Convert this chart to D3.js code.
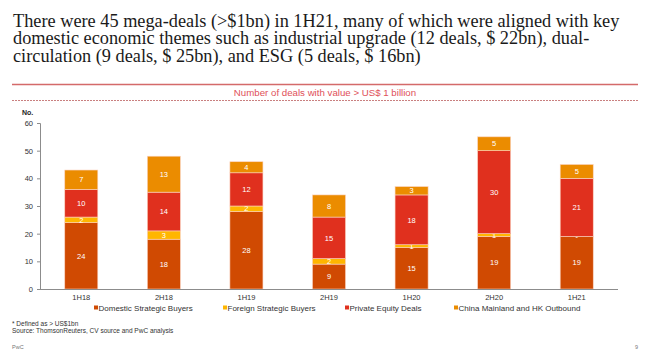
<!DOCTYPE html>
<html>
<head>
    <meta charset="utf-8">
    <title>Mega-deals</title>
    <style>
        body {
            margin: 0;
            padding: 0;
            background: #fff;
        }

        .title {
            font-family: "Liberation Serif", "DejaVu Serif", serif;
            font-size: 18.3px;
            fill: #1a1a1a;
        }

        .small {
            font-family: "Liberation Sans", Arial, sans-serif;
            font-size: 8px;
            fill: #333;
        }

        .axis text {
            font-family: "Liberation Sans", Arial, sans-serif;
            font-size: 7.5px;
            fill: #333;
        }

        .axis path,
        .axis line {
            stroke: #8c8c8c;
        }
    </style>
</head>
<body>
    <div id="chart"></div>

    <script src="https://d3js.org/d3.v7.min.js"></script>
    <script>
        var periods = ["1H18", "2H18", "1H19", "2H19", "1H20", "2H20", "1H21"];
        var domestic = [24, 18, 28, 9, 15, 19, 19];
        var foreign = [2, 3, 2, 2, 1, 1, 0];
        var privateEquity = [10, 14, 12, 15, 18, 30, 21];
        var outbound = [7, 13, 4, 8, 3, 5, 5];
        var yTicks = [0, 10, 20, 30, 40, 50, 60];

        var seriesNames = ["Domestic Strategic Buyers", "Foreign Strategic Buyers", "Private Equity Deals", "China Mainland and HK Outbound"];
        var seriesColors = ["#d04a02", "#ffb600", "#e0301e", "#eb8c00"];

        var width = 650,
            height = 360;

        var svg = d3.select("#chart")
            .append("svg")
            .attr("width", width)
            .attr("height", height);

        // title
        var titleLines = [
            "There were 45 mega-deals (>$1bn) in 1H21, many of which were aligned with key",
            "domestic economic themes such as industrial upgrade (12 deals, $ 22bn), dual-",
            "circulation (9 deals, $ 25bn), and ESG (5 deals, $ 16bn)"
        ];
        svg.append("g")
            .selectAll("text")
            .data(titleLines)
            .enter()
            .append("text")
            .attr("class", "title")
            .attr("x", 13)
            .attr("y", function (d, i) { return 27 + i * 17.3; })
            .text(function (d) { return d; });

        // header band
        svg.append("line")
            .attr("x1", 12).attr("x2", 638)
            .attr("y1", 84.5).attr("y2", 84.5)
            .attr("stroke", "#d46a6a")
            .attr("stroke-width", 1.5);

        svg.append("text")
            .attr("x", 325)
            .attr("y", 96)
            .attr("text-anchor", "middle")
            .style("font-family", "'Liberation Sans', Arial, sans-serif")
            .style("font-size", "9.7px")
            .style("fill", "#e0505a")
            .text("Number of deals with value > US$ 1 billion");

        svg.append("line")
            .attr("x1", 12).attr("x2", 638)
            .attr("y1", 100.5).attr("y2", 100.5)
            .attr("stroke", "#c98080")
            .attr("stroke-width", 1)
            .attr("stroke-dasharray", "2,1");

        // chart
        var x = d3.scaleBand()
            .domain(periods)
            .range([40, 618])
            .paddingInner(0.6)
            .paddingOuter(0.3);

        var y = d3.scaleLinear()
            .domain([0, 60])
            .range([289, 123]);

        var table = periods.map(function (p, i) {
            return {
                period: p,
                s0: domestic[i],
                s1: foreign[i],
                s2: privateEquity[i],
                s3: outbound[i]
            };
        });

        var stack = d3.stack().keys(["s0", "s1", "s2", "s3"]);
        var layers = stack(table);

        var layer = svg.append("g")
            .selectAll("g")
            .data(layers)
            .enter()
            .append("g")
            .attr("fill", function (d, i) { return seriesColors[i]; });

        layer.selectAll("rect")
            .data(function (d) { return d; })
            .enter()
            .append("rect")
            .attr("x", function (d) { return x(d.data.period); })
            .attr("width", x.bandwidth())
            .attr("y", function (d) { return y(d[1]); })
            .attr("height", function (d) { return y(d[0]) - y(d[1]); })
            .attr("stroke", "#fbd3c0")
            .attr("stroke-width", 0.6);

        layer.selectAll("text")
            .data(function (d) { return d; })
            .enter()
            .append("text")
            .attr("x", function (d) { return x(d.data.period) + x.bandwidth() / 2; })
            .attr("y", function (d) { return (y(d[0]) + y(d[1])) / 2 + 2.7; })
            .attr("text-anchor", "middle")
            .style("font-family", "'Liberation Sans', Arial, sans-serif")
            .style("font-size", "7.5px")
            .style("fill", "#fff")
            .text(function (d) { var v = d[1] - d[0]; return v === 0 ? "-" : v; });

        // axes
        svg.append("g")
            .attr("class", "axis")
            .attr("transform", "translate(40,0)")
            .call(d3.axisLeft(y).tickValues(yTicks).tickSize(3).tickPadding(4))
            .call(function (g) { g.select(".domain").attr("d", "M-3,123.5H0.5V289.5"); });

        svg.append("g")
            .attr("class", "axis")
            .attr("transform", "translate(0,289.5)")
            .call(d3.axisBottom(x).tickSize(0).tickPadding(5))
            .call(function (g) { g.select(".domain").attr("d", "M40,0H618"); });

        svg.append("text")
            .attr("x", 22)
            .attr("y", 115)
            .style("font-family", "'Liberation Sans', Arial, sans-serif")
            .style("font-size", "7px")
            .style("font-weight", "bold")
            .style("fill", "#222")
            .text("No.");

        // legend
        var legendX = [94, 223, 345, 454];
        var legend = svg.append("g")
            .selectAll("g")
            .data(seriesNames)
            .enter()
            .append("g")
            .attr("transform", function (d, i) { return "translate(" + legendX[i] + ",311)"; });

        legend.append("rect")
            .attr("y", -5.5)
            .attr("width", 4)
            .attr("height", 4)
            .attr("fill", function (d, i) { return seriesColors[i]; });

        legend.append("text")
            .attr("class", "small")
            .attr("x", 4.5)
            .text(function (d) { return d; });

        // notes
        svg.append("text")
            .attr("class", "small")
            .attr("x", 12).attr("y", 326)
            .style("font-size", "6.5px")
            .text("* Defined as > US$1bn");

        svg.append("text")
            .attr("class", "small")
            .attr("x", 12).attr("y", 333)
            .style("font-size", "6.5px")
            .text("Source: ThomsonReuters, CV source and PwC analysis");

        svg.append("text")
            .attr("class", "small")
            .attr("x", 12).attr("y", 349)
            .style("font-size", "5.5px")
            .style("fill", "#777")
            .text("PwC");

        svg.append("text")
            .attr("class", "small")
            .attr("x", 638).attr("y", 349)
            .attr("text-anchor", "end")
            .style("font-size", "5.5px")
            .style("fill", "#777")
            .text("9");
    </script>
</body>
</html>
